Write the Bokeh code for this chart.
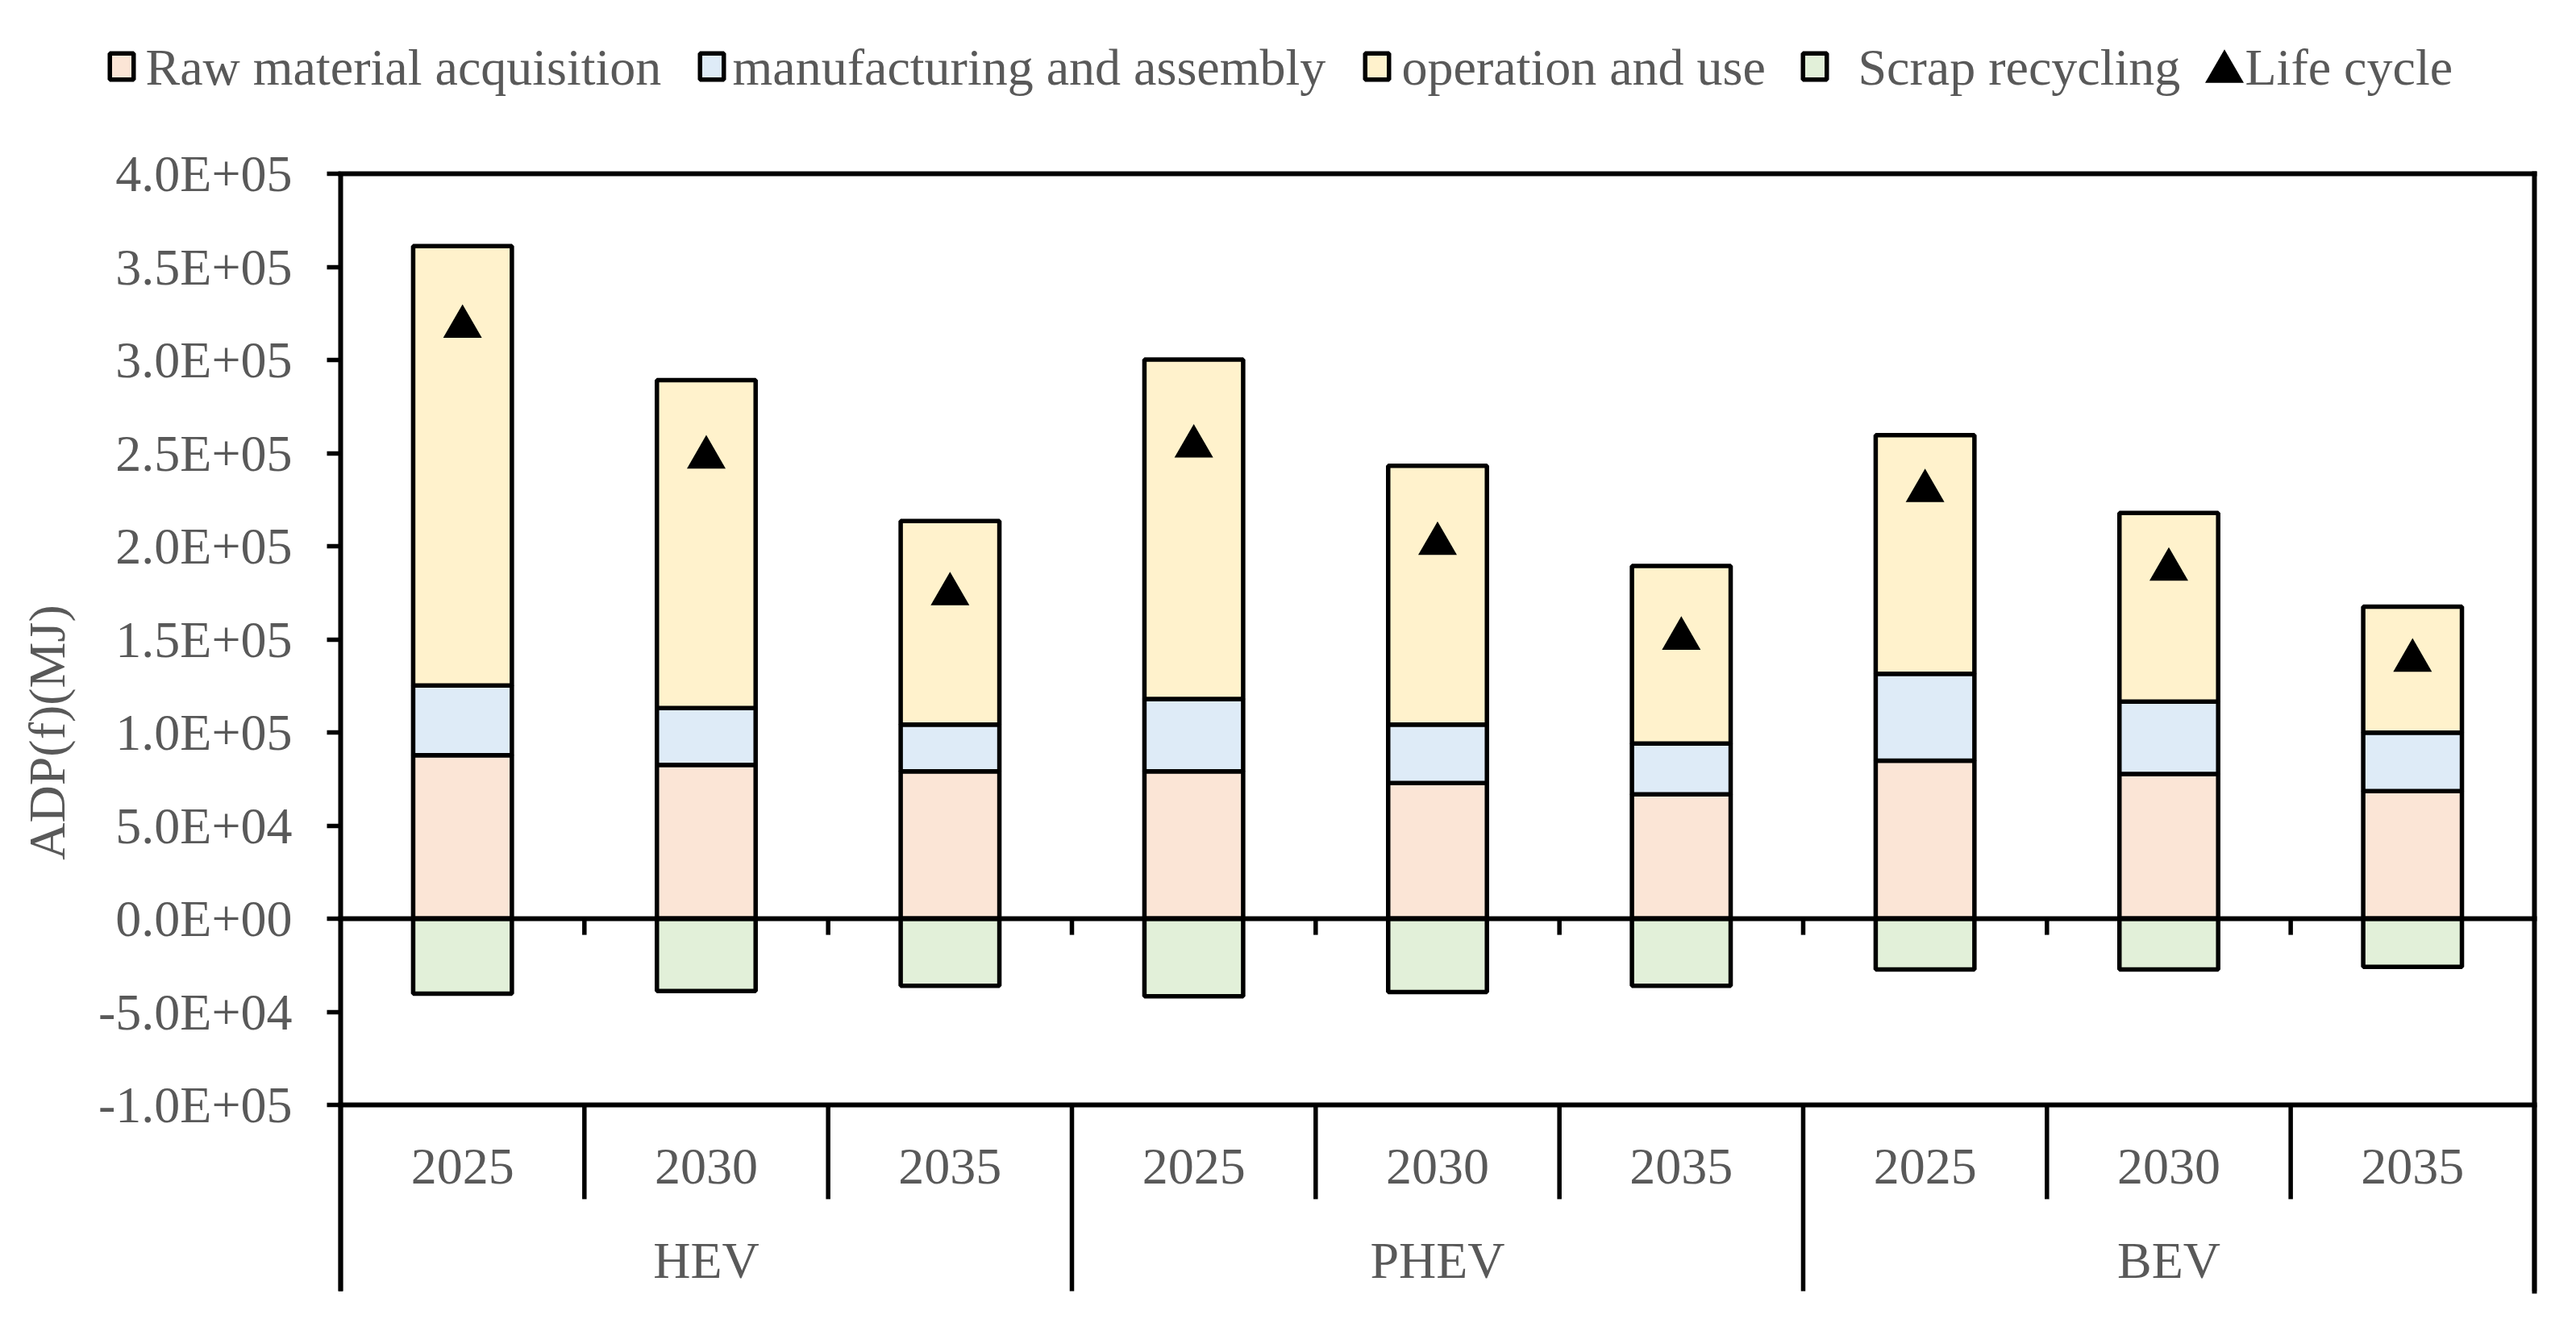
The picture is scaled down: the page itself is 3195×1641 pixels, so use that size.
from bokeh.plotting import figure
from bokeh.models import ColumnDataSource, Range1d, FixedTicker
from bokeh.core.properties import value
from bokeh.transform import dodge
from bokeh.embed import file_html
from bokeh.resources import INLINE

# ---------------- data ----------------
groups = ["HEV", "PHEV", "BEV"]
years = ["2025", "2030", "2035"]
raw_material = [87800, 82600, 79100, 79100, 72800, 66800, 84900, 77700, 68500]
manufacturing = [37400, 30500, 25100, 38900, 31400, 27300, 46600, 38900, 31400]
operation = [236000, 176100, 109300, 182200, 139000, 95300, 128100, 101300, 67600]
scrap = [-40300, -38900, -36000, -41700, -39400, -36000, -27300, -27300, -25900]
life_cycle = [320900, 250700, 177300, 256600, 204300, 153400, 232700, 190500, 141600]
series_names = ["Raw material acquisition", "manufacturing and assembly",
                "operation and use", "Scrap recycling", "Life cycle"]
y_ticks = [-100000, -50000, 0, 50000, 100000, 150000, 200000, 250000, 300000, 350000, 400000]
y_tick_labels = ["-1.0E+05", "-5.0E+04", "0.0E+00", "5.0E+04", "1.0E+05", "1.5E+05",
                 "2.0E+05", "2.5E+05", "3.0E+05", "3.5E+05", "4.0E+05"]
y_label = "ADP(f)(MJ)"

# ---------------- style / layout (screen px) ----------------
FONT = "Liberation Serif"
TXT = "#595959"
FS = "64px"
colors = ["#FBE5D6", "#DEEBF7", "#FFF2CC", "#E2F0D9"]
BAR_W = 0.405
LW = 5.5
W, H = 3176, 1622
PX_PER_CAT = 302.33     # screen px per category
X0_PX = 422             # px of the category axis start
UNITS_PER_PX = 432.9    # y data units per screen px
YTOP_PX = 215           # px of the 4.0E+05 line
TRI = 48

# legend key layout (px)
KEY_LEFT = [135.75, 867.75, 1692.75, 2235.75]
KEY_W, KEY_TOP, KEY_BOT = 29.5, 65.75, 98.25
LABEL_LEFT = [180, 908, 1738, 2304, 2784]
LABEL_MID = 82.5
TRI_KEY = (2758.5, 88.4)

x_start = -X0_PX / PX_PER_CAT
x_end = (W - X0_PX) / PX_PER_CAT
y_end = y_ticks[-1] + YTOP_PX * UNITS_PER_PX
y_start = y_end - H * UNITS_PER_PX


def dx(px):
    return x_start + px / PX_PER_CAT


def dy(py):
    return y_end - py * UNITS_PER_PX


n = len(groups) * len(years)
x_pos = [i + 0.5 for i in range(n)]
cat_years = [y for g in groups for y in years]
group_x = [len(years) * k + len(years) / 2 for k in range(len(groups))]

src = ColumnDataSource(dict(x=x_pos, raw=raw_material, mfg=manufacturing, op=operation,
                            scrap=scrap, life=life_cycle))

p = figure(width=W, height=H, x_range=Range1d(x_start, x_end), y_range=Range1d(y_start, y_end),
           x_axis_type=None, output_backend="svg", toolbar_location=None,
           min_border_left=0, min_border_right=0, min_border_top=0, min_border_bottom=0)
p.grid.visible = False
p.outline_line_color = None
p.background_fill_color = "white"
p.border_fill_color = "white"

ya = p.yaxis[0]
ya.fixed_location = 0
ya.ticker = FixedTicker(ticks=y_ticks)
ya.major_label_overrides = {t: l for t, l in zip(y_ticks, y_tick_labels)}
ya.bounds = (-200000, y_ticks[-1])
ya.axis_line_width = 6
ya.axis_line_color = "black"
ya.major_tick_out = 17
ya.major_tick_in = 0
ya.major_tick_line_width = 5.5
ya.major_tick_line_color = "black"
ya.minor_tick_out = 0
ya.minor_tick_in = 0
ya.major_label_standoff = 43
ya.major_label_text_font = FONT
ya.major_label_text_font_size = FS
ya.major_label_text_color = TXT
ya.axis_label = y_label
ya.axis_label_text_font = FONT
ya.axis_label_text_font_size = FS
ya.axis_label_text_font_style = "normal"
ya.axis_label_text_color = TXT
ya.axis_label_standoff = 25

# stacked bars
stack = p.vbar_stack(["raw", "mfg", "op"], x="x", width=BAR_W, source=src,
                     fill_color=colors[:3], line_color="black", line_width=LW)
r_scrap = p.vbar(x="x", top=0, bottom="scrap", width=BAR_W, source=src,
                 fill_color=colors[3], line_color="black", line_width=LW)

# zero axis, plot box and category separators
top_v, bot_v = y_ticks[-1], y_ticks[0]
p.segment(x0=[0, 0, 0], y0=[0, top_v, bot_v], x1=[n, n, n], y1=[0, top_v, bot_v],
          line_color="black", line_width=6, line_cap="square")
p.segment(x0=[n], y0=[top_v], x1=[n], y1=[-200000], line_color="black", line_width=6,
          line_cap="square")
inner = list(range(1, n))
p.segment(x0=inner, y0=[0] * len(inner), x1=inner, y1=[-8700] * len(inner),
          line_color="black", line_width=5.5)
short_b = [b for b in inner if b % len(years) != 0]
long_b = [b for b in range(0, n + 1) if b % len(years) == 0]
p.segment(x0=short_b, y0=[bot_v] * len(short_b), x1=short_b, y1=[-150600] * len(short_b),
          line_color="black", line_width=5.5)
p.segment(x0=long_b, y0=[bot_v] * len(long_b), x1=long_b, y1=[-200000] * len(long_b),
          line_color="black", line_width=5.5)

# life-cycle markers (marker box centred on the value)
tri_shift = -UNITS_PER_PX * TRI * 0.866 / 6
p.scatter(x="x", y=dodge("life", tri_shift), source=src, marker="triangle", size=TRI,
          fill_color="black", line_color="black", line_width=0)

# category labels
p.text(x=x_pos, y=[-133300] * n, text=cat_years, text_font=value(FONT),
       text_font_size=value(FS), text_color=TXT, text_align="center", text_baseline="middle")
p.text(x=group_x, y=[-183500] * len(groups), text=groups, text_font=value(FONT),
       text_font_size=value(FS), text_color=TXT, text_align="center", text_baseline="middle")

# ---------------- legend ----------------
p.quad(left=[dx(v) for v in KEY_LEFT], right=[dx(v + KEY_W) for v in KEY_LEFT],
       top=[dy(KEY_TOP)] * 4, bottom=[dy(KEY_BOT)] * 4,
       fill_color=colors, line_color="black", line_width=LW)
p.scatter(x=[dx(TRI_KEY[0])], y=[dy(TRI_KEY[1])], marker="triangle", size=TRI,
          fill_color="black", line_color="black", line_width=0)
p.text(x=[dx(v) for v in LABEL_LEFT], y=[dy(LABEL_MID)] * len(series_names), text=series_names,
       text_font=value(FONT), text_font_size=value(FS), text_color=TXT,
       text_align="left", text_baseline="middle")

open("out.html", "w").write(file_html(p, INLINE))
